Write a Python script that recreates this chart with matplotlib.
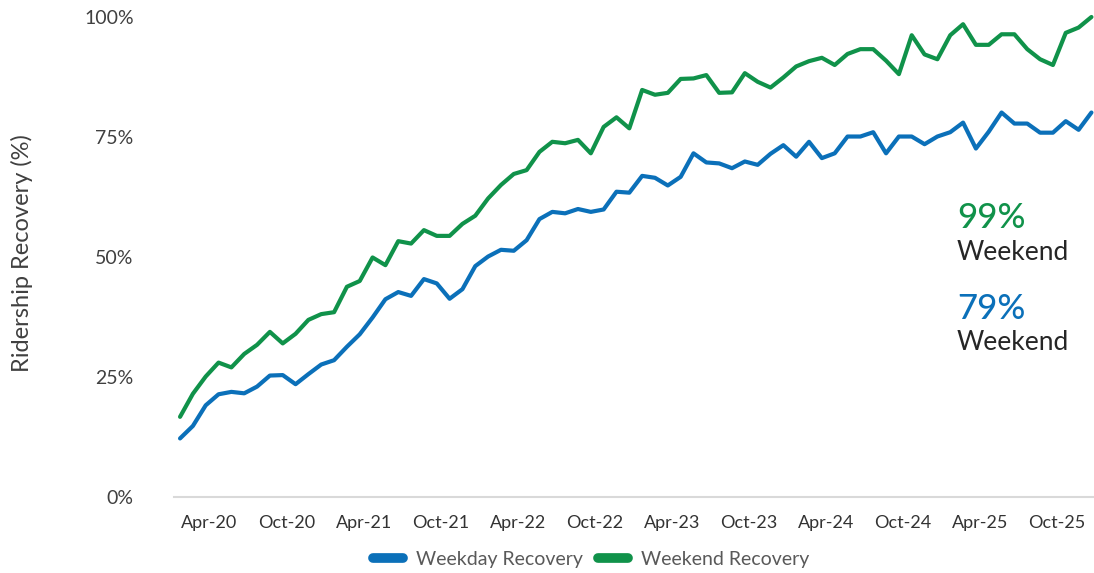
import matplotlib
matplotlib.use("Agg")
import matplotlib.pyplot as plt
from matplotlib.lines import Line2D
import pandas as pd

# ---------------- data ----------------
months = pd.date_range("2020-02-01", periods=72, freq="MS")
weekday = [12.2, 14.8, 19.1, 21.4, 21.9, 21.6, 23.0, 25.3, 25.4, 23.5, 25.6, 27.6,
           28.5, 31.3, 33.9, 37.4, 41.2, 42.7, 41.9, 45.4, 44.5, 41.3, 43.3, 48.1,
           50.1, 51.5, 51.3, 53.5, 57.9, 59.4, 59.1, 60.0, 59.4, 59.9, 63.6, 63.4,
           66.9, 66.5, 64.9, 66.7, 71.6, 69.7, 69.5, 68.5, 69.9, 69.2, 71.5, 73.3,
           70.9, 74.0, 70.6, 71.6, 75.1, 75.1, 76.0, 71.6, 75.1, 75.1, 73.5, 75.1,
           76.0, 78.0, 72.6, 76.1, 80.1, 77.8, 77.8, 75.9, 75.9, 78.3, 76.5, 80.1]
weekend = [16.7, 21.5, 25.1, 28.0, 27.0, 29.8, 31.7, 34.4, 32.0, 34.0, 36.9, 38.1,
           38.5, 43.8, 45.0, 49.9, 48.3, 53.3, 52.8, 55.6, 54.4, 54.4, 56.9, 58.6,
           62.2, 65.0, 67.3, 68.1, 71.9, 74.0, 73.7, 74.4, 71.6, 77.1, 79.1, 76.8,
           84.8, 83.8, 84.2, 87.1, 87.2, 87.9, 84.2, 84.3, 88.3, 86.5, 85.3, 87.4,
           89.7, 90.8, 91.5, 90.0, 92.3, 93.3, 93.3, 90.9, 88.1, 96.2, 92.2, 91.2,
           96.2, 98.5, 94.2, 94.2, 96.4, 96.4, 93.3, 91.2, 90.0, 96.7, 97.8, 100.0]
series_names = ["Weekday Recovery", "Weekend Recovery"]
yticks = [0, 25, 50, 75, 100]
ytick_labels = ["0%", "25%", "50%", "75%", "100%"]
callout_values = ["99%", "79%"]
callout_labels = ["Weekend", "Weekend"]

BLUE = "#0B70B9"
GREEN = "#10924A"
FONT = "Lato"

W, H = 1094, 573
fig = plt.figure(figsize=(W / 100, H / 100), dpi=100)
ax = fig.add_axes([174 / W, 1 - 497 / H, (W - 174) / W, (497 - 17) / H])

x = list(range(len(months)))
ax.plot(x, weekday, color=BLUE, lw=3.0, solid_joinstyle="round", solid_capstyle="round", clip_on=False)
ax.plot(x, weekend, color=GREEN, lw=3.0, solid_joinstyle="round", solid_capstyle="round", clip_on=False)

ax.set_xlim(-0.47, 71.2)
ax.set_ylim(0, 100)

for s in ["top", "right", "left"]:
    ax.spines[s].set_visible(False)
ax.spines["bottom"].set_color("#d9d9d9")
ax.spines["bottom"].set_linewidth(1.5)

ax.set_yticks(yticks)
ax.set_yticklabels(ytick_labels, fontsize=14, color="#404040", family=FONT)
ax.tick_params(axis="y", length=0, pad=29)

tick_pos = [i + 0.3 for i, m in enumerate(months) if m.month in (4, 10)]
tick_lab = [m.strftime("%b-%y") for m in months if m.month in (4, 10)]
ax.set_xticks(tick_pos)
ax.set_xticklabels(tick_lab, fontsize=13, color="#333333", family=FONT)
ax.tick_params(axis="x", length=0, pad=13)

fig.text(22 / W, 1 - 253 / H, "Ridership Recovery (%)", rotation=90, ha="center", va="center",
         fontsize=17, color="#404040", family=FONT)

# callouts
fig.text(957 / W, 1 - 218 / H, callout_values[0], color=GREEN, fontsize=25, family=FONT,
         fontweight="medium", ha="left", va="center")
fig.text(957 / W, 1 - 252 / H, callout_labels[0], color="#262626", fontsize=19, family=FONT,
         ha="left", va="center")
fig.text(957 / W, 1 - 309 / H, callout_values[1], color=BLUE, fontsize=25, family=FONT,
         fontweight="medium", ha="left", va="center")
fig.text(957 / W, 1 - 343 / H, callout_labels[1], color="#262626", fontsize=19, family=FONT,
         ha="left", va="center")

handles = [Line2D([0], [0], color=BLUE, lw=7, solid_capstyle="round"),
           Line2D([0], [0], color=GREEN, lw=7, solid_capstyle="round")]
leg = fig.legend(handles, series_names, loc="center", bbox_to_anchor=(591 / W, 1 - 559 / H),
                 ncol=2, frameon=False, prop={"family": FONT, "size": 14},
                 handlelength=1.55, handletextpad=0.65, columnspacing=0.8, borderpad=0)
for t in leg.get_texts():
    t.set_color("#595959")

fig.savefig("out.png", dpi=100)
